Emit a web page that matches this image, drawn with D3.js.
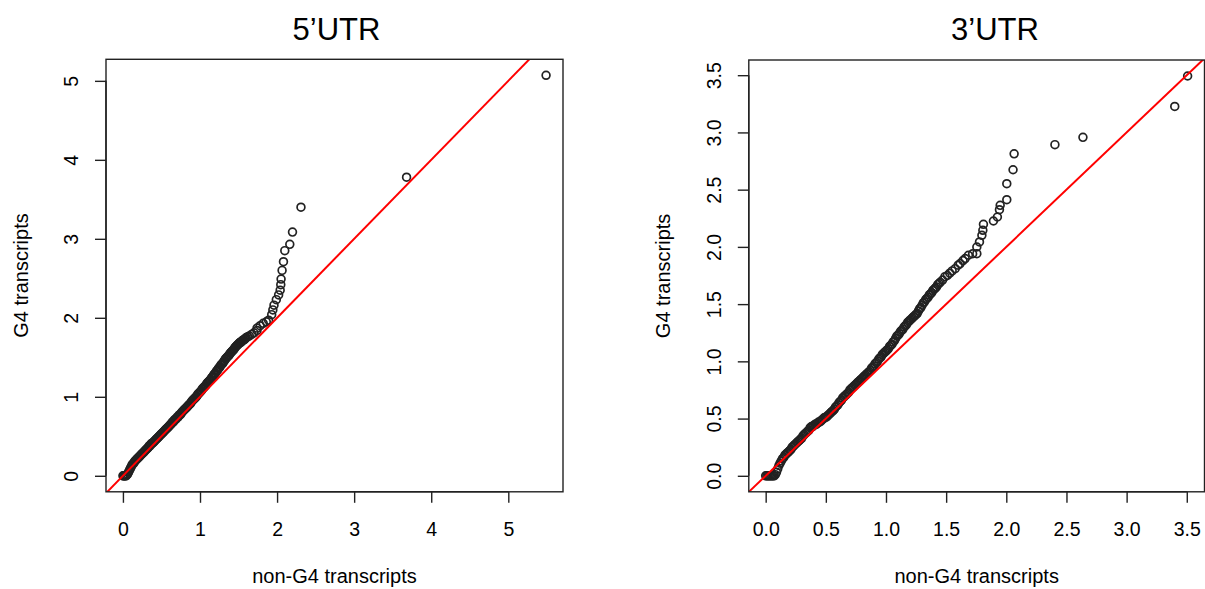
<!DOCTYPE html>
<html lang="en">
<head>
  <meta charset="UTF-8">
  <title>Q-Q plots: G4 vs non-G4 transcripts</title>
  <script src="https://d3js.org/d3.v7.min.js"></script>
  <style>
    body { margin: 0; background: #fff; }
    svg text { font-family: "Liberation Sans", Arial, sans-serif; fill: #000; }
  </style>
</head>
<body>
  <svg id="chart" width="1205" height="589"></svg>

  <script>
    // sorted quantile pairs [non-G4, G4]
    const utr5Pts = [
      [0,0],[0.01,0],[0.02,0],[0.03,0],[0.04,0],[0.05,0.01],[0.06,0.02],[0.07,0.04],[0.08,0.06],[0.09,0.08],
      [0.10,0.10],[0.11,0.12],[0.12,0.14],[0.13,0.15],[0.14,0.16],[0.15,0.18],[0.16,0.19],[0.17,0.20],[0.18,0.21],[0.19,0.22],
      [0.20,0.23],[0.21,0.24],[0.22,0.25],[0.23,0.26],[0.24,0.27],[0.25,0.28],[0.26,0.29],[0.27,0.30],[0.28,0.31],[0.29,0.32],
      [0.30,0.33],[0.31,0.34],[0.32,0.35],[0.33,0.36],[0.34,0.38],[0.35,0.38],[0.36,0.39],[0.37,0.41],[0.38,0.41],[0.39,0.42],
      [0.40,0.43],[0.41,0.44],[0.42,0.45],[0.43,0.46],[0.44,0.47],[0.45,0.48],[0.46,0.49],[0.47,0.50],[0.48,0.51],[0.49,0.52],
      [0.50,0.53],[0.51,0.54],[0.52,0.55],[0.53,0.56],[0.54,0.57],[0.55,0.58],[0.56,0.59],[0.57,0.60],[0.58,0.61],[0.59,0.62],
      [0.60,0.63],[0.61,0.64],[0.62,0.65],[0.63,0.66],[0.64,0.68],[0.65,0.68],[0.66,0.69],[0.67,0.71],[0.68,0.71],[0.69,0.72],
      [0.70,0.74],[0.71,0.74],[0.72,0.75],[0.73,0.77],[0.74,0.77],[0.75,0.78],[0.76,0.80],[0.77,0.81],[0.78,0.82],[0.79,0.83],
      [0.80,0.84],[0.81,0.85],[0.82,0.86],[0.83,0.87],[0.84,0.88],[0.85,0.89],[0.86,0.90],[0.87,0.91],[0.88,0.92],[0.89,0.94],
      [0.90,0.95],[0.91,0.96],[0.92,0.97],[0.93,0.98],[0.94,0.99],[0.95,1.00],[0.96,1.01],[0.97,1.03],[0.98,1.04],[0.99,1.05],
      [1.00,1.06],[1.01,1.07],[1.02,1.08],[1.03,1.10],[1.04,1.11],[1.05,1.12],[1.06,1.13],[1.07,1.14],[1.08,1.15],[1.09,1.17],
      [1.10,1.18],[1.11,1.19],[1.12,1.20],[1.13,1.21],[1.14,1.22],[1.15,1.24],[1.16,1.25],[1.17,1.26],[1.18,1.28],[1.19,1.29],
      [1.20,1.30],[1.21,1.32],[1.22,1.33],[1.23,1.34],[1.24,1.36],[1.25,1.37],[1.26,1.38],[1.27,1.40],[1.28,1.41],[1.29,1.42],
      [1.30,1.43],[1.31,1.45],[1.32,1.46],[1.33,1.48],[1.34,1.49],[1.35,1.50],[1.36,1.51],[1.37,1.52],[1.38,1.53],[1.39,1.55],
      [1.40,1.56],[1.41,1.57],[1.42,1.58],[1.43,1.59],[1.44,1.60],[1.45,1.62],[1.46,1.63],[1.47,1.64],[1.48,1.65],[1.49,1.66],
      [1.50,1.67],[1.51,1.68],[1.52,1.69],[1.53,1.69],[1.54,1.70],[1.55,1.71],[1.56,1.72],[1.57,1.72],[1.58,1.73],[1.59,1.74],
      [1.60,1.75],[1.62,1.76],[1.64,1.77],[1.67,1.79],[1.70,1.81],[1.74,1.84],
      // upper tail
      [1.74,1.87],[1.78,1.90],[1.82,1.93],[1.86,1.95],[1.89,1.97],[1.93,2.04],[1.945,2.10],[1.96,2.16],[1.99,2.23],[2.02,2.29],
      [2.04,2.35],[2.048,2.42],[2.052,2.49],[2.065,2.60],[2.083,2.71],[2.10,2.85],[2.165,2.93],[2.20,3.085],[2.31,3.40],
      [3.68,3.78],[5.49,5.07]
    ];

    const utr3Pts = [
      [0,0],[0.01,0],[0.02,0],[0.03,0],[0.04,0],[0.05,0],[0.06,0],[0.07,0],[0.08,0.01],[0.09,0.03],
      [0.10,0.06],[0.11,0.09],[0.12,0.11],[0.13,0.13],[0.14,0.15],[0.15,0.16],[0.16,0.18],[0.17,0.19],[0.18,0.20],[0.19,0.21],
      [0.20,0.22],[0.21,0.23],[0.22,0.25],[0.23,0.26],[0.24,0.27],[0.25,0.28],[0.26,0.29],[0.27,0.30],[0.28,0.31],[0.29,0.32],
      [0.30,0.33],[0.31,0.35],[0.32,0.36],[0.33,0.37],[0.34,0.38],[0.35,0.39],[0.36,0.40],[0.37,0.42],[0.38,0.43],[0.39,0.43],
      [0.40,0.44],[0.41,0.45],[0.42,0.45],[0.43,0.46],[0.44,0.47],[0.45,0.47],[0.46,0.48],[0.47,0.49],[0.48,0.50],[0.49,0.51],
      [0.50,0.51],[0.51,0.52],[0.52,0.53],[0.53,0.54],[0.54,0.55],[0.55,0.56],[0.56,0.57],[0.57,0.58],[0.58,0.60],[0.59,0.61],
      [0.60,0.62],[0.61,0.64],[0.62,0.65],[0.63,0.66],[0.64,0.68],[0.65,0.69],[0.66,0.70],[0.67,0.71],[0.68,0.72],[0.69,0.73],
      [0.70,0.75],[0.71,0.76],[0.72,0.77],[0.73,0.78],[0.74,0.79],[0.75,0.80],[0.76,0.81],[0.77,0.82],[0.78,0.83],[0.79,0.84],
      [0.80,0.85],[0.81,0.86],[0.82,0.87],[0.83,0.88],[0.84,0.89],[0.85,0.90],[0.86,0.91],[0.87,0.92],[0.88,0.94],[0.89,0.95],
      [0.90,0.96],[0.91,0.98],[0.92,0.99],[0.93,1.00],[0.94,1.02],[0.95,1.03],[0.96,1.04],[0.97,1.06],[0.98,1.07],[0.99,1.08],
      [1.00,1.09],[1.01,1.10],[1.02,1.11],[1.03,1.13],[1.04,1.14],[1.05,1.15],[1.06,1.17],[1.07,1.18],[1.08,1.20],[1.09,1.22],
      [1.10,1.23],[1.11,1.24],[1.12,1.26],[1.13,1.27],[1.14,1.28],[1.15,1.30],[1.16,1.31],[1.17,1.32],[1.18,1.34],[1.19,1.35],
      [1.20,1.36],[1.21,1.37],[1.22,1.38],[1.23,1.39],[1.24,1.40],[1.25,1.41],[1.26,1.42],[1.27,1.44],[1.28,1.46],[1.29,1.47],
      [1.30,1.49],[1.31,1.51],[1.32,1.52],[1.33,1.54],[1.34,1.55],[1.35,1.56],[1.36,1.58],[1.37,1.59],[1.38,1.60],[1.39,1.62],
      [1.40,1.63],[1.41,1.64],[1.42,1.65],[1.43,1.67],[1.44,1.68],[1.45,1.69],[1.47,1.71],[1.49,1.74],[1.51,1.75],[1.53,1.77],
      [1.55,1.79],[1.575,1.81],[1.60,1.84],[1.616,1.854],[1.64,1.88],[1.658,1.898],[1.685,1.927],[1.72,1.94],
      // upper tail
      [1.755,1.941],[1.755,1.999],[1.777,2.043],[1.797,2.101],[1.805,2.145],[1.81,2.197],[1.893,2.226],[1.926,2.261],
      [1.943,2.325],[1.949,2.363],[2.004,2.412],[2.004,2.552],[2.056,2.674],[2.065,2.813],[2.404,2.893],[2.637,2.957],
      [3.40,3.227],[3.507,3.493]
    ];

    const utr5Ticks = [0, 1, 2, 3, 4, 5];
    const utr3Ticks = [0, 0.5, 1, 1.5, 2, 2.5, 3, 3.5];
    const panelTitles = ["5’UTR", "3’UTR"];
    const xLabel = "non-G4 transcripts";
    const yLabel = "G4 transcripts";

    const svg = d3.select("#chart");

    const panels = [
      { pts: utr5Pts, ticks: utr5Ticks, fmt: d3.format("d"), title: panelTitles[0],
        left: 106, right: 563, top: 59.3, bottom: 491.8, titleX: 336.5 },
      { pts: utr3Pts, ticks: utr3Ticks, fmt: d3.format(".1f"), title: panelTitles[1],
        left: 748.8, right: 1204.5, top: 60, bottom: 491.8, titleX: 995 }
    ];

    // R style range: data extent plus 4% on each side
    function padded(ext) {
      const d = (ext[1] - ext[0]) * 0.04;
      return [ext[0] - d, ext[1] + d];
    }

    panels.forEach((p, i) => {
      const x = d3.scaleLinear().domain(padded(d3.extent(p.pts, d => d[0]))).range([p.left, p.right]);
      const y = d3.scaleLinear().domain(padded(d3.extent(p.pts, d => d[1]))).range([p.bottom, p.top]);

      const clipId = "clip" + i;
      svg.append("clipPath").attr("id", clipId)
        .append("rect").attr("x", p.left).attr("y", p.top)
        .attr("width", p.right - p.left).attr("height", p.bottom - p.top);

      // points
      svg.append("g").selectAll("circle").data(p.pts).join("circle")
        .attr("cx", d => x(d[0])).attr("cy", d => y(d[1])).attr("r", 3.9)
        .attr("fill", "none").attr("stroke", "#222").attr("stroke-width", 1.7);

      // y = x reference line
      const lo = Math.min(x.domain()[0], y.domain()[0]);
      const hi = Math.max(x.domain()[1], y.domain()[1]);
      svg.append("line").attr("clip-path", "url(#" + clipId + ")")
        .attr("x1", x(lo)).attr("y1", y(lo)).attr("x2", x(hi)).attr("y2", y(hi))
        .attr("stroke", "#ff0000").attr("stroke-width", 2);

      // box
      svg.append("rect").attr("x", p.left).attr("y", p.top)
        .attr("width", p.right - p.left).attr("height", p.bottom - p.top)
        .attr("fill", "none").attr("stroke", "#222").attr("stroke-width", 1.4);

      // x axis
      const gx = svg.append("g").attr("transform", `translate(0,${p.bottom})`)
        .call(d3.axisBottom(x).tickValues(p.ticks).tickFormat(p.fmt).tickSize(11).tickSizeOuter(0));
      gx.select(".domain").attr("d", `M${x(p.ticks[0])},0H${x(p.ticks[p.ticks.length - 1])}`)
        .attr("stroke", "#222").attr("stroke-width", 1.4);
      gx.selectAll(".tick line").attr("stroke", "#222").attr("stroke-width", 1.4);
      gx.selectAll(".tick text").attr("y", 44).attr("dy", null)
        .attr("font-size", 19.5).attr("fill", "#000");

      // y axis, labels turned like R's las=0
      const gy = svg.append("g").attr("transform", `translate(${p.left},0)`)
        .call(d3.axisLeft(y).tickValues(p.ticks).tickFormat(p.fmt).tickSize(11).tickSizeOuter(0));
      gy.select(".domain").attr("d", `M0,${y(p.ticks[0])}V${y(p.ticks[p.ticks.length - 1])}`)
        .attr("stroke", "#222").attr("stroke-width", 1.4);
      gy.selectAll(".tick line").attr("stroke", "#222").attr("stroke-width", 1.4);
      gy.selectAll(".tick text").attr("x", 0).attr("y", -28).attr("dy", null)
        .attr("transform", "rotate(-90)").attr("text-anchor", "middle")
        .attr("font-size", 19.5).attr("fill", "#000");

      // titles and axis labels
      svg.append("text").attr("x", p.titleX).attr("y", 39.5).attr("text-anchor", "middle")
        .attr("font-size", 31).text(p.title);
      svg.append("text").attr("x", (p.left + p.right) / 2).attr("y", 583).attr("text-anchor", "middle")
        .attr("font-size", 20).text(xLabel);
      const cy = (p.top + p.bottom) / 2;
      svg.append("text").attr("transform", `translate(${p.left - 78.5},${cy}) rotate(-90)`)
        .attr("text-anchor", "middle").attr("font-size", 20).text(yLabel);
    });
  </script>
</body>
</html>
